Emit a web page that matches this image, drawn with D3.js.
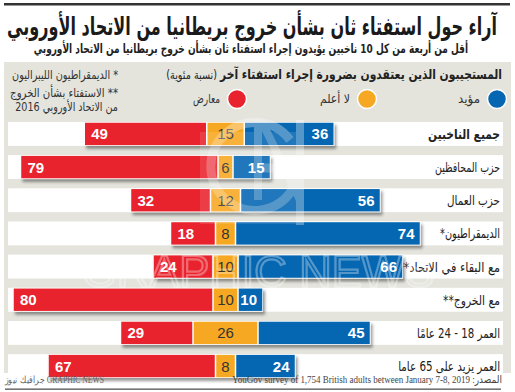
<!DOCTYPE html>
<html><head><meta charset="utf-8">
<script src="https://cdn.jsdelivr.net/npm/d3@7"></script>
<style>
html,body{margin:0;padding:0;background:#fff;}
svg{display:block;}
.ar{font-family:"DejaVu Sans",sans-serif;direction:rtl;unicode-bidi:embed;}
.arm{font-family:"DejaVu Sans",sans-serif;}
</style></head>
<body>
<svg id="chart" width="515" height="392"></svg>
<script>
const categories = ["جميع الناخبين","حزب المحافظين","حزب العمال","الديمقراطيون*","مع البقاء في الاتحاد**","مع الخروج**","العمر 18 - 24 عامًا","العمر يزيد على 65 عاما"];
const supportVals = [36,15,56,74,66,10,45,24];
const dontKnowVals = [15,6,12,8,10,10,26,8];
const opposeVals = [49,79,32,18,24,80,29,67];
const seriesNames = ["مؤيد","لا أعلم","معارض"];
const seriesColors = ["#0566b2","#f7a823","#e9232e"];
const titleText = "آراء حول استفتاء ثان بشأن خروج بريطانيا من الاتحاد الأوروبي";
const subtitleText = "أقل من أربعة من كل 10 ناخبين يؤيدون إجراء استفتاء ثان بشأن خروج بريطانيا من الاتحاد الأوروبي";
const headerBold = "المستجيبون الذين يعتقدون بضرورة إجراء استفتاء آخر";
const headerNorm = " (نسبة مئوية)";
const notes = ["* الديمقراطيون الليبراليون","** الاستفتاء بشأن الخروج","من الاتحاد الأوروبي 2016"];
const sourceText = "المصدر: YouGov survey of 1,754 British adults between January 7-8, 2019";
const creditText = "جرافيك نيوز GRAPHIC NEWS";

const labelWidths = [72,65,53,60,102,57,83,102];

const svg = d3.select("#chart");
const defs = svg.append("defs");
const f = defs.append("filter").attr("id","sh").attr("x","-5%").attr("y","-30%").attr("width","115%").attr("height","180%");
f.append("feDropShadow").attr("dx",2).attr("dy",3).attr("stdDeviation",1.6).attr("flood-color","#000").attr("flood-opacity",0.4);

function measure(txt, size, bold){
  const parts = Array.isArray(txt) ? txt : [txt];
  let total = 0;
  parts.forEach((p,i)=>{
    const m = svg.append("text").attr("class","arm").attr("font-size", i===0?size:size*0.9)
      .attr("font-weight", (Array.isArray(txt)? i===0 : bold) ? "bold":"normal").text(p);
    total += m.node().getComputedTextLength();
    m.remove();
  });
  return total;
}

// right-anchored RTL text, squeezed horizontally to reach the reference width
function rtext(parent, x, y, txt, size, w, opts={}){
  const t = parent.append("text").attr("class","ar").attr("x",0).attr("y",0)
    .attr("text-anchor","start").attr("font-size",size)
    .attr("font-weight",opts.bold?"bold":"normal").attr("fill",opts.fill||"#222");
  if (Array.isArray(txt)) {
    t.append("tspan").attr("font-weight","bold").text(txt[0]);
    t.append("tspan").attr("font-weight","normal").attr("font-size",size*0.9).text(txt[1]);
  } else t.text(txt);
  const bw = measure(txt, size, opts.bold);
  const sx = Math.min(1, w/bw);
  t.attr("transform",`translate(${x},${y}) scale(${sx},1)`);
  return t;
}

svg.append("rect").attr("x",4).attr("y",3).attr("width",506).attr("height",2.5).attr("fill","#333");
rtext(svg, 497, 35, titleText, 25, 490, {bold:true, fill:"#1a1a1a"});
rtext(svg, 468, 53, subtitleText, 13, 435, {bold:true});

svg.append("rect").attr("x",4).attr("y",62).attr("width",507).attr("height",311).attr("fill","#e4e4dd");

rtext(svg, 502, 79, [headerBold, headerNorm], 13.5, 333);

const noteW = [106,108,103];
notes.forEach((n,i)=> rtext(svg, 118, [79,97,111][i], n, 12.5, noteW[i], {fill:"#333"}));

const legX = [497,367,237];
const legW = [22,30,27];
seriesNames.forEach((s,i)=>{
  svg.append("circle").attr("cx",legX[i]).attr("cy",99).attr("r",9.5).attr("fill",seriesColors[i]).attr("stroke","#fff").attr("stroke-width",1.5);
  rtext(svg, legX[i]-17, 103, s, 12.5, legW[i], {fill:"#333"});
});

const y = d3.scaleBand().domain(categories).range([122,378]).paddingInner(0.28).paddingOuter(0);
const k = d3.scaleLinear().domain([0,100]).range([0,250]);
const cx = 225.5;

svg.append("g").selectAll("rect").data(categories).join("rect")
  .attr("x",8).attr("y",d=>y(d)).attr("width",495).attr("height",y.bandwidth()).attr("fill","#fff");

const lg = svg.append("g");
categories.forEach((c,i)=> rtext(lg, 500, y(c)+y.bandwidth()/2+5, c, 13.5, labelWidths[i], {bold:i===0}));

const rows = categories.map((c,i)=>({c, s:supportVals[i], d:dontKnowVals[i], o:opposeVals[i]}));
const g = svg.append("g");
rows.forEach(r=>{
  const x0 = cx - k(r.o + r.d/2);
  const yy = y(r.c), h = y.bandwidth();
  const segs = [
    {v:r.o, x:x0, col:seriesColors[2], lab:"start", tc:"#fff"},
    {v:r.d, x:x0+k(r.o), col:seriesColors[1], lab:"mid", tc:"#333"},
    {v:r.s, x:x0+k(r.o)+k(r.d), col:seriesColors[0], lab:"end", tc:"#fff"}
  ];
  const bg = g.append("g");
  bg.append("rect").attr("x",x0).attr("y",yy).attr("width",k(r.o+r.d+r.s)).attr("height",h)
    .attr("fill","#fff").attr("filter","url(#sh)");
  segs.forEach(s=>{
    bg.append("rect").attr("x",s.x+0.75).attr("y",yy+0.75).attr("width",k(s.v)-1.5).attr("height",h-1.5).attr("fill",s.col);
    const tx = s.lab==="start"? s.x+7 : s.lab==="mid"? s.x+k(s.v)/2 : s.x+k(s.v)-6;
    bg.append("text").attr("x",tx).attr("y",yy+h/2+5.5)
      .attr("text-anchor",s.lab==="start"?"start":s.lab==="mid"?"middle":"end")
      .attr("font-family","Liberation Sans, Arial, sans-serif").attr("font-size",15)
      .attr("font-weight",s.lab==="mid"?"normal":"bold").attr("fill",s.tc).text(s.v);
  });
});

// watermark
const wm = svg.append("g").attr("opacity",0.32).attr("pointer-events","none");
wm.append("rect").attr("x",200).attr("y",132).attr("width",100).attr("height",92).attr("fill","#fff").attr("opacity",0.35);
wm.append("path").attr("d","M 290 140 A 44 44 0 1 0 292 190 L 292 168 L 258 168")
  .attr("fill","none").attr("stroke","#fff").attr("stroke-width",9);
wm.append("path").attr("d","M 258 120 L 258 200 M 262 122 L 300 200 M 300 120 L 300 225")
  .attr("fill","none").attr("stroke","#fff").attr("stroke-width",8);
wm.append("text").attr("x",258).attr("y",287).attr("text-anchor","middle")
  .attr("font-family","Liberation Sans, Arial, sans-serif").attr("font-size",45)
  .attr("fill","none").attr("stroke","#fff").attr("stroke-width",2.2).text("GRAPHIC NEWS");

// footer
const cr = svg.append("text").attr("x",0).attr("y",0).attr("font-family","Liberation Serif, Times New Roman, serif")
  .attr("font-size",10).attr("fill","#666").text(creditText);
cr.attr("transform",`translate(5,383) scale(${Math.min(1,98/cr.node().getBBox().width)},1)`);
const src = svg.append("text").attr("class","ar").attr("x",0).attr("y",0).attr("text-anchor","start")
  .style("font-family","Liberation Serif, DejaVu Sans, serif")
  .attr("font-size",10.5).attr("fill","#444").text(sourceText);
src.attr("transform",`translate(502,383) scale(${Math.min(1,270/src.node().getBBox().width)},1)`);
svg.append("rect").attr("x",5).attr("y",388.5).attr("width",496).attr("height",1.3).attr("fill","#555");
</script>
</body></html>
